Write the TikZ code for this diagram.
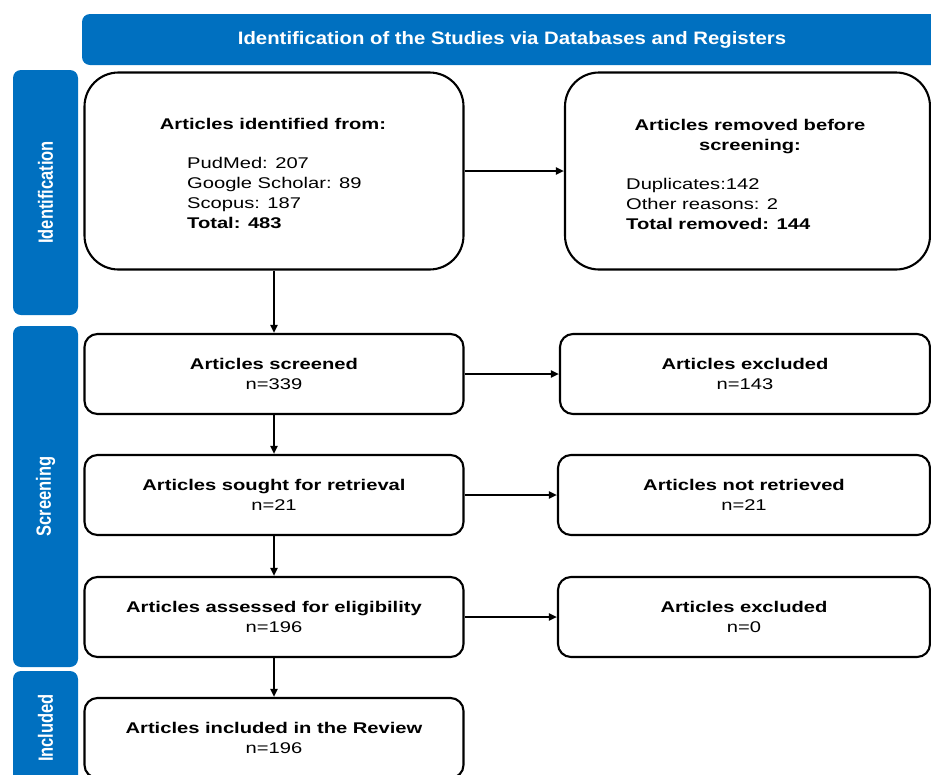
\documentclass[tikz,border=0pt]{standalone}
\usepackage{fontspec}
\setmainfont{Liberation Sans}[FakeStretch=1.3]
\newfontfamily\bannerfont{Liberation Sans}[FakeStretch=1.13]
\newfontfamily\phasefont{Liberation Sans}
\usetikzlibrary{positioning, arrows.meta}
\definecolor{phaseblue}{RGB}{0,112,192}
\newcommand{\boxsize}{\fontsize{15.5}{20}\selectfont}
\newcommand{\phasetext}[1]{\scalebox{1}[1.25]{\phasefont\bfseries #1}}

\begin{document}
\begin{tikzpicture}[x=1pt, y=-1pt,
  font=\boxsize,
  banner/.style={fill=phaseblue, rounded corners=8pt, text=white,
                 minimum height=51pt, font=\bannerfont\fontsize{18}{20}\selectfont\bfseries},
  phase/.style={fill=phaseblue, rounded corners=8pt, text=white, rotate=90,
                minimum height=65pt, inner sep=0pt,
                font=\fontsize{16.5}{20}\selectfont},
  bigbox/.style={draw, line width=2.1pt, rounded corners=34pt,
                 minimum width=379pt, minimum height=197pt},
  stepbox/.style={draw, line width=2.1pt, rounded corners=13pt,
                  minimum height=80pt, align=center, inner sep=0pt},
  boxtitle/.style={font=\boxsize\bfseries, inner sep=0pt},
  listtext/.style={align=left, inner sep=0pt, anchor=north west},
  flow/.style={-{Triangle[length=8pt, width=7pt]}, line width=1.9pt}
]
\clip (0,0) rectangle (931,774);

% header and phase bars
\node[banner, minimum width=860pt] (head) at (512,39.5)
  {Identification of the Studies via Databases and Registers};
\node[phase, minimum width=245pt] (phId)  at (45.5,192.5) {\phasetext{Identification}};
\node[phase, minimum width=341pt] (phScr) at (45.5,496.5) {\phasetext{Screening}};
\node[phase, minimum width=114pt] (phInc) at (45.5,728)   {\phasetext{Included}};

% identification
\node[bigbox] (found) at (274,171) {};
\node[bigbox, minimum width=365pt] (removed) at (747.5,171) {};
\node[boxtitle, anchor=base] (foundT) at (273,129) {Articles identified from:};
\node[listtext] (foundL) at (187,157)
  {PudMed: 207\\Google Scholar: 89\\Scopus: 187\\\textbf{Total: 483}};
\node[boxtitle, align=center, anchor=north] (removedT) at (750,119)
  {Articles removed before\\screening:};
\node[listtext] (removedL) at (626,178)
  {Duplicates:142\\Other reasons: 2\\\textbf{Total removed: 144}};

% screening and included
\node[stepbox, minimum width=379pt] (screened) at (274,374) {\textbf{Articles screened}\\n=339};
\node[stepbox, minimum width=370pt] (excl1)    at (745,374) {\textbf{Articles excluded}\\n=143};
\node[stepbox, minimum width=379pt] (sought)   at (274,495) {\textbf{Articles sought for retrieval}\\n=21};
\node[stepbox, minimum width=372pt] (notret)   at (744,495) {\textbf{Articles not retrieved}\\n=21};
\node[stepbox, minimum width=379pt] (assessed) at (274,617) {\textbf{Articles assessed for eligibility}\\n=196};
\node[stepbox, minimum width=372pt] (excl2)    at (744,617) {\textbf{Articles excluded}\\n=0};
\node[stepbox, minimum width=379pt] (included) at (274,738) {\textbf{Articles included in the Review}\\n=196};

\draw[flow] (found) -- (removed);
\draw[flow] (found) -- (screened);
\draw[flow] (screened) -- (excl1);
\draw[flow] (screened) -- (sought);
\draw[flow] (sought) -- (notret);
\draw[flow] (sought) -- (assessed);
\draw[flow] (assessed) -- (excl2);
\draw[flow] (assessed) -- (included);
\end{tikzpicture}
\end{document}
